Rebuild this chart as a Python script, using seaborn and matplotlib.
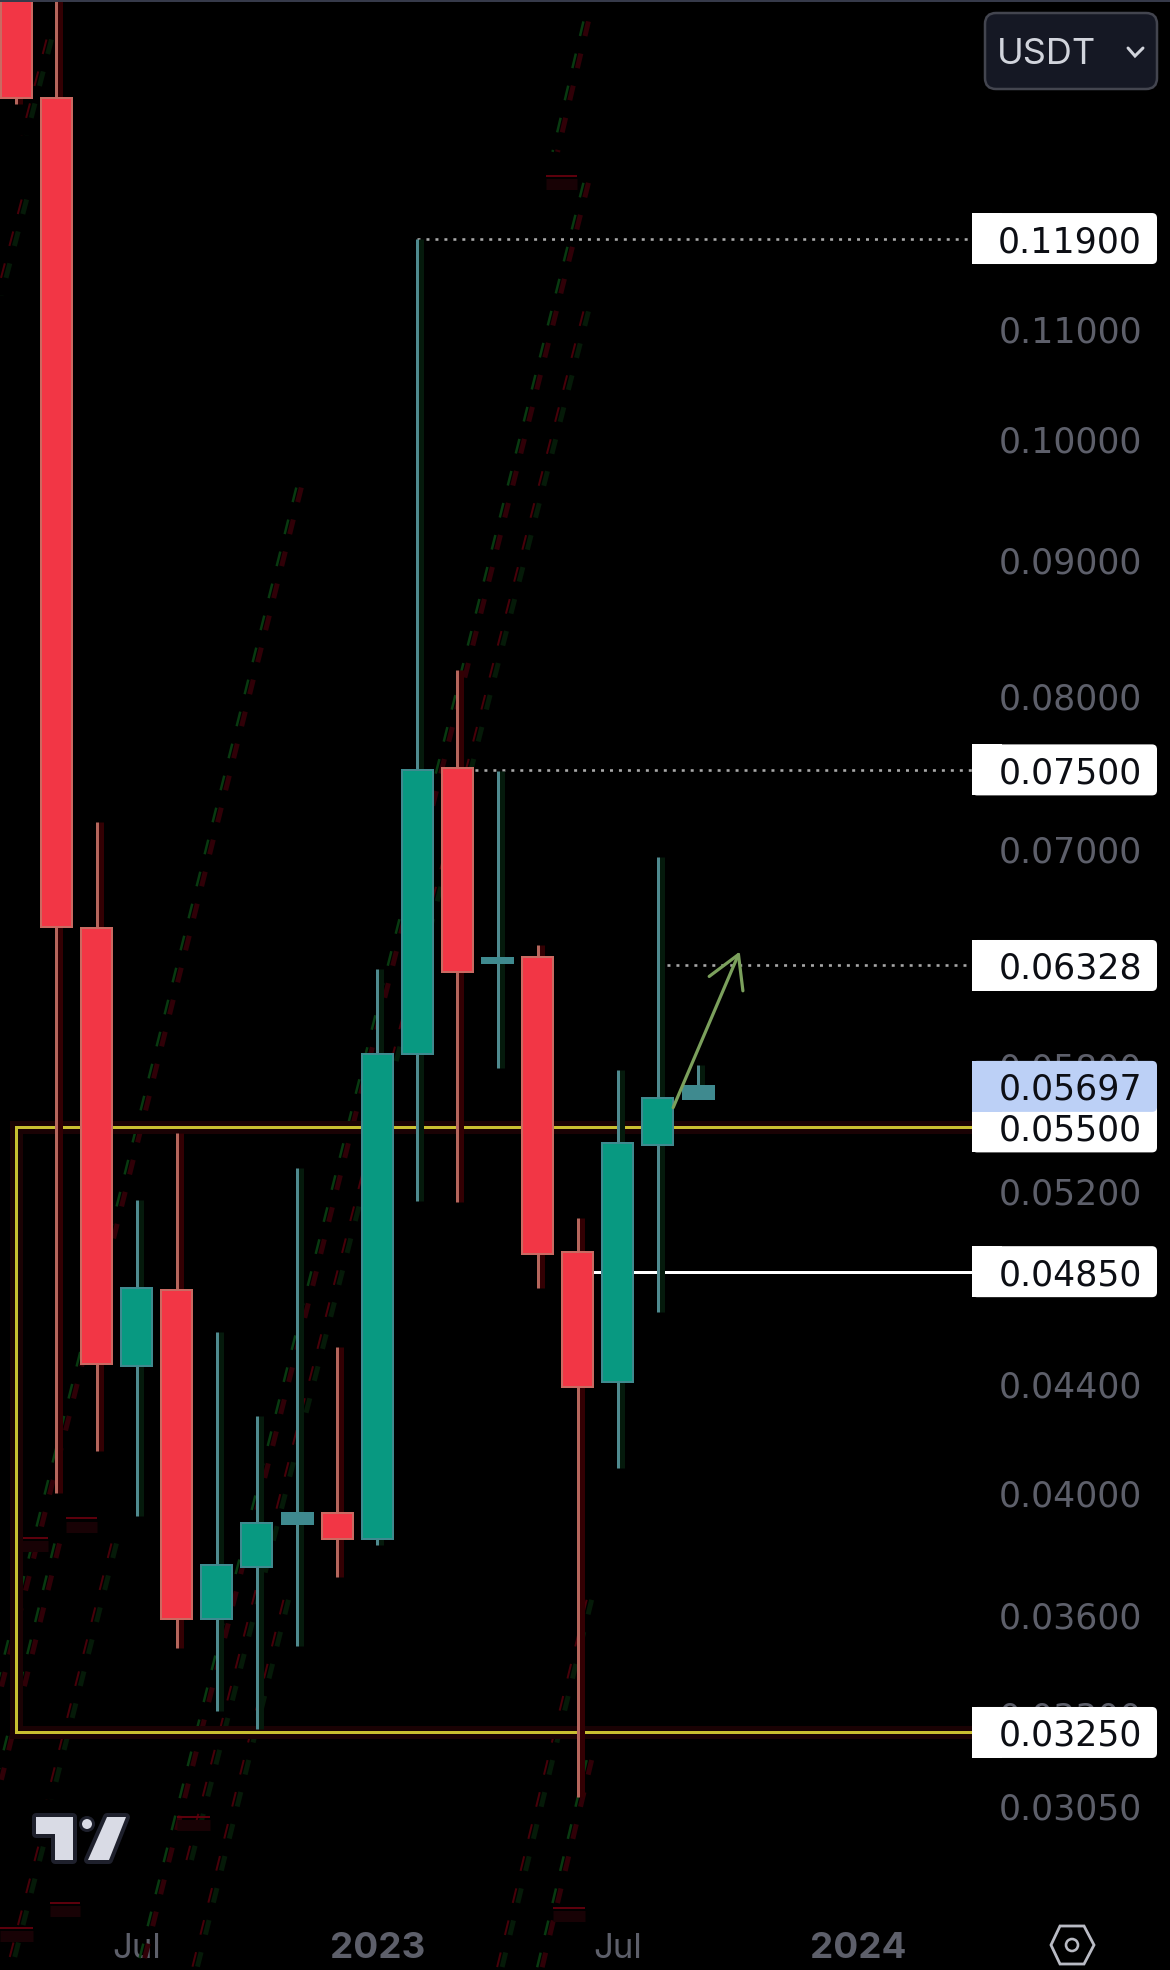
import numpy as np
import pandas as pd
import seaborn as sns
import matplotlib
matplotlib.use("Agg")
import matplotlib.pyplot as plt
from matplotlib.patches import FancyBboxPatch, Rectangle, Polygon, Circle
from matplotlib.transforms import Affine2D, offset_copy
from matplotlib.ticker import NullLocator

# ---- candle data (monthly bars, Jul label on bar 3) ----
bar_idx = list(range(18))
opens = [.1560, .13448, .06536, .04470, .04772, .03586, .03754, .03896, .03933,
         .03845, .05859, .07515, .06340, .06373, .04935, .04405, .05412, .05634]
highs = [.1600, .1650, .07171, .05162, .05470, .04603, .04279, .05305, .04543,
         .06310, .11900, .08183, .07493, .06443, .05083, .05777, .06954, .05803]
lows = [.1337, .04003, .04149, .03921, .03496, .03311, .03260, .03504, .03720,
        .03825, .05157, .05152, .05789, .04782, .03074, .04091, .04684, .05634]
closes = [.13448, .06543, .04475, .04782, .03586, .03758, .03900, .03933, .03845,
          .05859, .07500, .06290, .06367, .04925, .04387, .05423, .05640, .05697]

# ---- axis labels ----
price_ticks = [.03050, .03300, .03600, .04000, .04400, .05200, .05800, .06400,
               .07000, .08000, .09000, .10000, .11000]
time_ticks = [3, 9, 15, 21]
time_labels = ["Jul", "2023", "Jul", "2024"]

# ---- drawn levels ----
badge_prices = [.11900, .07500, .06328, .05500, .05697, .04850, .03250]
dotted_levels = [.11900, .07500, .06328]
dotted_starts = [10, 11, 16]
white_level = .04850
white_start = 14
box_low = .03250
box_high = .05500
box_left = 0.0
box_right = 26
arrow_from = (16.38, .05593)
arrow_to = (18.04, .06405)

# ---- faint ghost trend lines (bar, price) -> (bar, price) ----
ghost_x0 = [14.23, 14.23, 14.23, 7.07, .84, .22, 2.46, 1.04, 6.75, 14.31, 14.31, .84]
ghost_p0 = [.1437, .1249, .1117, .09585, .14146, .1231, .03830, .03830, .03647, .03647, .03173, .03026]
ghost_x1 = [13.46, 3.09, 4.33, -.41, .22, -.41, .84, -.41, 4.46, 12.06, 13.06, -.16]
ghost_p1 = [.1283, .02644, .02909, .03380, .13014, .11325, .03066, .03119, .02644, .02644, .02644, .02644]
ghost_green_left = [True, True, False, True, False, False, False, True, False, False, True, False]

mark_x0 = [1.24, .09, 4.01, .84, -.41, 13.21, 13.38]
mark_x1 = [2.01, .79, 4.83, 1.59, .42, 13.98, 14.18]
mark_p = [.03914, .03849, .03020, .02803, .02743, .12569, .02791]

W, H = 1170, 1970
DPI = 100
PX = 72 / DPI

sns.set_theme(style="dark", rc={"axes.facecolor": "black", "figure.facecolor": "black"})
plt.rcParams["font.family"] = ["DejaVu Sans"]

fig = plt.figure(figsize=(W / DPI, H / DPI), dpi=DPI, facecolor="black")
ax = fig.add_axes([0, 0, 1, 1], facecolor="black")

RED, GREEN = "#f23645", "#089981"
RED_EDGE, GREEN_EDGE = "#c96a62", "#3f8a8f"
RED_WICK, GREEN_WICK = "#b5665c", "#4f8a8f"
GREY = "#5d5f6a"

df = pd.DataFrame({"idx": bar_idx, "o": opens, "h": highs, "l": lows, "c": closes})
df["bottom"] = df[["o", "c"]].min(axis=1)
df["height"] = (df["o"] - df["c"]).abs()
df["up"] = df["c"] >= df["o"]

for up, col, edge in [(False, RED, RED_EDGE), (True, GREEN, GREEN_EDGE)]:
    sub = df[df["up"] == up]
    sns.barplot(data=sub, x="idx", y="height", bottom=sub["bottom"].values, native_scale=True,
                color=col, saturation=1, width=.773, errorbar=None, edgecolor=edge,
                linewidth=2 * PX, zorder=6, ax=ax)

for cont in ax.containers:
    for p in cont:
        if p.get_height() / p.get_y() < .03 and p.get_facecolor()[1] > .3:
            p.set_facecolor(GREEN_EDGE)

ax.set_yscale("log")
ax.set_xlim(-0.4065, 28.77)
ax.set_ylim(.02644, .1464)

# wicks with their dark halo
halo = offset_copy(ax.transData, fig=fig, x=4, y=0, units="dots")
up_mask = df["up"]
ax.vlines(df.idx[~up_mask], df.l[~up_mask], df.h[~up_mask], colors="#330003", lw=5 * PX, zorder=4.6, transform=halo)
ax.vlines(df.idx[up_mask], df.l[up_mask], df.h[up_mask], colors="#051a0c", lw=5 * PX, zorder=4.6, transform=halo)
ax.vlines(df.idx[~up_mask], df.l[~up_mask], df.h[~up_mask], colors=RED_WICK, lw=3 * PX, zorder=5)
ax.vlines(df.idx[up_mask], df.l[up_mask], df.h[up_mask], colors=GREEN_WICK, lw=3 * PX, zorder=5)

# ghost lines
left_off = offset_copy(ax.transData, fig=fig, x=-3.5, y=0, units="dots")
right_off = offset_copy(ax.transData, fig=fig, x=1.5, y=0, units="dots")
for x0, p0, x1, p1, gl in zip(ghost_x0, ghost_p0, ghost_x1, ghost_p1, ghost_green_left):
    c_left, c_right = ("#083a10", "#300007") if gl else ("#480009", "#051a08")
    w_left, w_right = (2.5, 5) if gl else (2, 5)
    for c, w, tr in [(c_left, w_left, left_off), (c_right, w_right, right_off)]:
        ax.plot([x0, x1], [p0, p1], color=c, lw=w * PX, transform=tr, zorder=1,
                dash_capstyle="butt", linestyle=(0, (15 / w, 18 / w)))
ax.hlines([p * .993 for p in mark_p], mark_x0, mark_x1, colors="#180205", lw=11 * PX, zorder=1)
ax.hlines(mark_p, mark_x0, mark_x1, colors="#5c000c", lw=2 * PX, zorder=1.1)

# yellow box, open on the right where it runs under the price badges
bx = [box_right, box_left, box_left, box_right]
by = [box_high, box_high, box_low, box_low]
ax.plot(bx, by, color="#1a0204", lw=13 * PX, zorder=1.5, solid_joinstyle="miter")
ax.plot(bx, by, color="#c9bf30", lw=3 * PX, zorder=2, solid_joinstyle="miter")

# levels
for lev, st in zip(dotted_levels, dotted_starts):
    ax.plot([st, box_right], [lev, lev], color="#a8a8a8", lw=2.6 * PX, linestyle=(0, (1.15, 2.3)),
            dash_capstyle="butt", zorder=2.2)
ax.plot([white_start, box_right], [white_level, white_level], color="white", lw=3 * PX, zorder=2.2)

# arrow
ax.annotate("", xy=arrow_to, xytext=arrow_from, zorder=7,
            arrowprops=dict(arrowstyle="->,head_length=0.95,head_width=0.55", color="#7ba05c",
                            lw=3.2 * PX, mutation_scale=24, shrinkA=0, shrinkB=0))

# axes furniture as real ticks
ax.set_axisbelow(True)
ax.grid(False)
for s in ax.spines.values():
    s.set_visible(False)
ax.yaxis.tick_right()
ax.set_yticks(price_ticks)
ax.yaxis.set_minor_locator(NullLocator())
ax.xaxis.set_minor_locator(NullLocator())
ax.set_yticklabels([f"{p:.5f}" for p in price_ticks], ha="right", fontsize=25, color=GREY)
ax.tick_params(axis="y", length=0, pad=-(W - 1142) * PX, labelsize=25, labelcolor=GREY, right=False)
ax.set_xticks(time_ticks)
ax.set_xticklabels(time_labels, fontsize=25, color=GREY, va="center", family=["Inter", "DejaVu Sans"])
ax.tick_params(axis="x", length=0, pad=-(H - 1949) * PX, labelcolor=GREY, bottom=False)
for lab in ax.get_xticklabels():
    if lab.get_text().startswith("20"):
        lab.set_fontweight("bold")
        lab.set_fontsize(26.5)
ax.set_xlabel("")
ax.set_ylabel("")

# pixel space overlays (y measured from the top)
pix = Affine2D().scale(1, -1).translate(0, H)


def price_to_px(p):
    return H - ax.transData.transform((0, p))[1]


def badge(p, face, z):
    yc = price_to_px(p)
    ax.add_patch(FancyBboxPatch((972, yc - 25.5), 185, 51, boxstyle="round,pad=0,rounding_size=5",
                                fc=face, ec="none", transform=pix, zorder=z, clip_on=False))
    ax.add_patch(Rectangle((972, yc - 25.5), 30, 51, fc=face, ec="none", transform=pix, zorder=z))
    ax.text(1142, yc, f"{p:.5f}", transform=pix, ha="right", va="center_baseline", fontsize=25,
            color="#0c0e14", zorder=z + .1)


for p in badge_prices:
    if p == .05697:
        badge(p, "#bcd0f6", 9)
    else:
        badge(p, "white", 8)

# currency button
ax.add_patch(FancyBboxPatch((985, 13), 172, 76, boxstyle="round,pad=0,rounding_size=11",
                            fc="#151824", ec="#43454f", lw=2.5 * PX, transform=pix, zorder=10))
ax.text(997, 51, "USDT", transform=pix, ha="left", va="center_baseline", fontsize=26, color="#d1d4dc",
        zorder=11, family=["Inter", "DejaVu Sans"])
ax.plot([1128, 1135, 1143], [48, 56, 48], color="#d1d4dc", lw=3 * PX, transform=pix, zorder=11,
        solid_capstyle="round", solid_joinstyle="miter")

# top border
ax.add_patch(Rectangle((0, 0), W, 2, fc="#363a4a", ec="none", transform=pix, zorder=12))

# logo
logo_t = [(36, 1817), (73, 1817), (73, 1860), (55, 1860), (55, 1834), (36, 1834)]
logo_s = [(107, 1817), (126, 1817), (109, 1860), (88, 1860)]
for shape in (logo_t, logo_s):
    ax.add_patch(Polygon(shape, closed=True, fc="#d9dbe5", ec="#1e202c", lw=8 * PX, joinstyle="round",
                         transform=pix, zorder=8))
    ax.add_patch(Polygon(shape, closed=True, fc="#d9dbe5", ec="none", transform=pix, zorder=8.2))
ax.add_patch(Circle((87, 1824), 6.5, fc="#d9dbe5", ec="#1e202c", lw=3 * PX, transform=pix, zorder=8.3))

# settings icon
hexa = [(1060, 1926), (1084, 1926), (1094, 1945), (1084, 1964), (1060, 1964), (1051, 1945)]
ax.add_patch(Polygon(hexa, closed=True, fc="none", ec="#b9bbc4", lw=2.8 * PX, transform=pix, zorder=8))
ax.add_patch(Circle((1072, 1945), 6, fc="none", ec="#b9bbc4", lw=2.6 * PX, transform=pix, zorder=8))

fig.savefig("out.png", dpi=DPI, facecolor="black")
